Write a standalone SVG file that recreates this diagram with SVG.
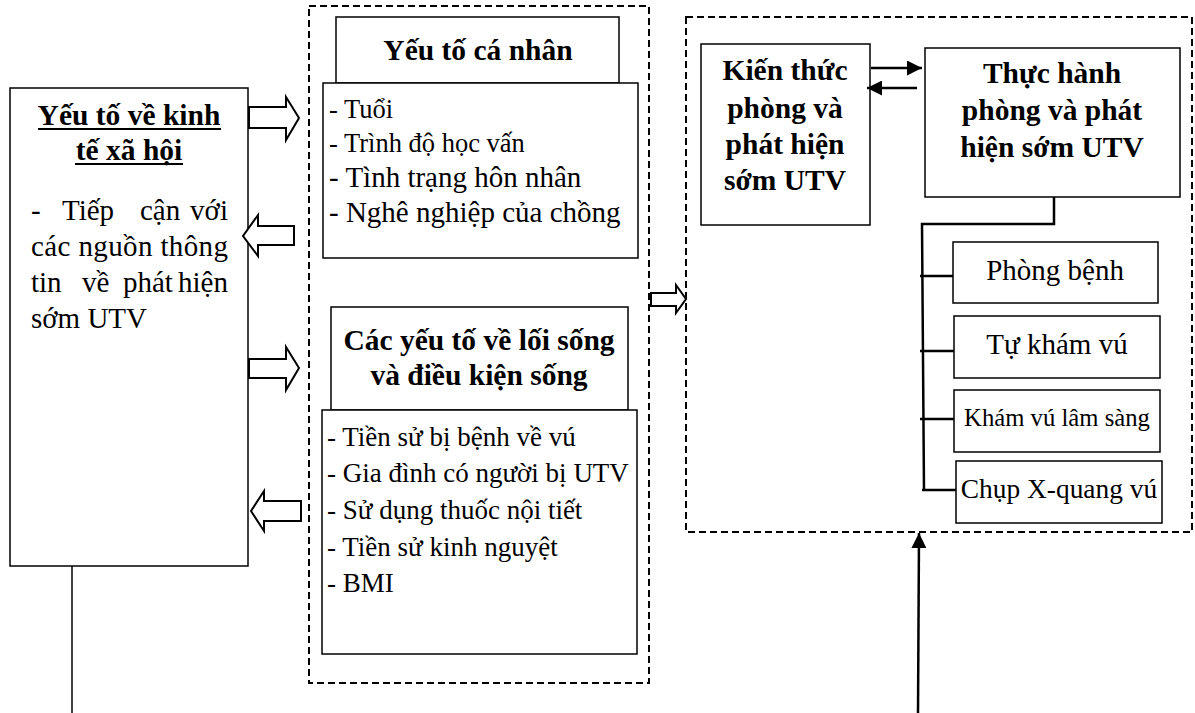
<svg xmlns="http://www.w3.org/2000/svg" width="1195" height="713" viewBox="0 0 1195 713">
<defs>
<style>
.box{fill:#fff;stroke:#000;stroke-width:1.5}
.dash{fill:none;stroke:#000;stroke-width:2;stroke-dasharray:7,4}
.ln{fill:none;stroke:#000;stroke-width:1.5}
.ln2{fill:none;stroke:#000;stroke-width:2.5}
.fat{fill:#fff;stroke:#000;stroke-width:2}
text{font-family:"Liberation Serif","Times New Roman",serif;fill:#000}
.b{font-weight:bold;font-size:29.5px;text-anchor:middle}
.r{font-size:29px}
.c{text-anchor:middle}
</style>
<marker id="ah" viewBox="0 0 10 10" refX="10" refY="5" markerWidth="6" markerHeight="6" markerUnits="strokeWidth" orient="auto">
<path d="M0,0 L10,5 L0,10 z" fill="#000"/>
</marker>
</defs>

<g id="container-middle"><rect class="dash" x="309" y="6" width="340" height="677"/></g>
<g id="container-right"><rect class="dash" x="686" y="17" width="506" height="515"/></g>

<g id="node-kinhte">
<rect class="box" x="10" y="88" width="238" height="478"/>
<text class="b" x="129" y="125">Yếu tố về kinh</text>
<text class="b" x="129" y="160">tế xã hội</text>
<line x1="38" y1="129" x2="221" y2="129" stroke="#000" stroke-width="2"/>
<line x1="75" y1="164" x2="183" y2="164" stroke="#000" stroke-width="2"/>
<text class="r" y="220"><tspan x="31">-</tspan><tspan x="62">Tiếp</tspan><tspan x="140">cận</tspan><tspan x="228" text-anchor="end">với</tspan></text>
<text class="r" y="256" x="31" textLength="197" lengthAdjust="spacing">các nguồn thông</text>
<text class="r" y="292"><tspan x="31">tin</tspan><tspan x="82">về</tspan><tspan x="123">phát</tspan><tspan x="228" text-anchor="end">hiện</tspan></text>
<text class="r" x="31" y="328">sớm UTV</text>
</g>

<g id="node-canhan">
<rect class="box" x="336" y="17" width="283" height="66"/>
<text class="b" x="478" y="60">Yếu tố cá nhân</text>
<rect class="box" x="323" y="83" width="315" height="175"/>
<text x="329" y="118" font-size="26.5">- Tuổi</text>
<text x="329" y="152" font-size="26.5">- Trình độ học vấn</text>
<text x="329" y="187" font-size="29">- Tình trạng hôn nhân</text>
<text x="329" y="222" font-size="29">- Nghê nghiệp của chồng</text>
</g>

<g id="node-loisong">
<rect class="box" x="331" y="307" width="297" height="103"/>
<text class="b" x="479" y="350">Các yếu tố về lối sống</text>
<text class="b" x="479" y="385">và điều kiện sống</text>
<rect class="box" x="322" y="410" width="315" height="244"/>
<text x="327" y="446" font-size="27">- Tiền sử bị bệnh về vú</text>
<text x="327" y="482" font-size="27">- Gia đình có người bị UTV</text>
<text x="327" y="519" font-size="27">- Sử dụng thuốc nội tiết</text>
<text x="327" y="556" font-size="27">- Tiền sử kinh nguyệt</text>
<text x="327" y="592" font-size="27">- BMI</text>
</g>

<g id="node-kienthuc">
<rect class="box" x="701" y="44" width="169" height="181"/>
<text class="b" x="785" y="80">Kiến thức</text>
<text class="b" x="785" y="118">phòng và</text>
<text class="b" x="785" y="154">phát hiện</text>
<text class="b" x="785" y="190">sớm UTV</text>
</g>

<g id="node-thuchanh">
<rect class="box" x="925" y="48" width="255" height="149"/>
<text class="b" x="1052" y="83">Thực hành</text>
<text class="b" x="1052" y="120">phòng và phát</text>
<text class="b" x="1052" y="157">hiện sớm UTV</text>
</g>

<g id="node-phongbenh">
<rect class="box" x="953" y="242" width="205" height="61"/>
<text class="r c" x="1055" y="280">Phòng bệnh</text>
</g>
<g id="node-tukham">
<rect class="box" x="954" y="316" width="206" height="62"/>
<text class="r c" x="1057" y="354">Tự khám vú</text>
</g>
<g id="node-khamls">
<rect class="box" x="954" y="390" width="206" height="62"/>
<text class="c" x="1057" y="426" font-size="24.7">Khám vú lâm sàng</text>
</g>
<g id="node-chup">
<rect class="box" x="956" y="461" width="206" height="62"/>
<text class="c" x="1059" y="498" font-size="27.4">Chụp X-quang vú</text>
</g>

<g id="connectors">
<path class="fat" d="M249,107 H286 V97 L299,118 L286,140 V128 H249 Z"/>
<path class="fat" d="M294,226 H258 V215 L243,236 L258,256 V245 H294 Z"/>
<path class="fat" d="M249,359 H286 V347 L299,368 L286,390 V378 H249 Z"/>
<path class="fat" d="M301,501 H264 V491 L251,511 L264,531 V521 H301 Z"/>
<path class="fat" d="M651,293 H676 V285 L686,299 L676,313 V306 H651 Z"/>
<line class="ln2" x1="871" y1="68" x2="922" y2="68" marker-end="url(#ah)"/>
<line class="ln2" x1="917" y1="88" x2="867" y2="88" marker-end="url(#ah)"/>
<polyline class="ln2" points="1054,197 1054,224 922,224 924,491"/>
<line class="ln2" x1="920" y1="276" x2="953" y2="276"/>
<line class="ln2" x1="920" y1="351" x2="954" y2="351"/>
<line class="ln2" x1="920" y1="419" x2="954" y2="419"/>
<line class="ln2" x1="922" y1="490" x2="956" y2="490"/>
<line class="ln" x1="72" y1="566" x2="72" y2="713"/>
<line class="ln2" x1="918" y1="713" x2="919" y2="533" marker-end="url(#ah)"/>
</g>
</svg>
